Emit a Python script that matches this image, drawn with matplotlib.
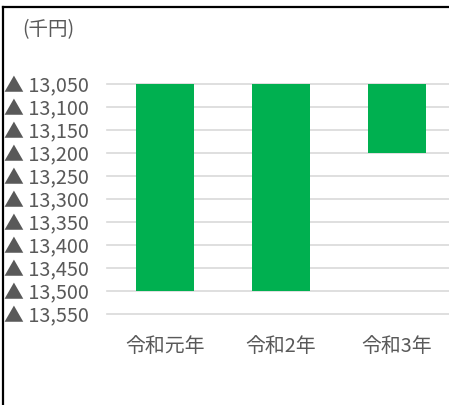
import matplotlib
matplotlib.use("Agg")
import matplotlib.pyplot as plt
from matplotlib.lines import Line2D

categories = ["令和元年", "令和2年", "令和3年"]
values = [-13500, -13500, -13200]
baseline = -13050
y_ticks = [-13050, -13100, -13150, -13200, -13250, -13300, -13350, -13400, -13450, -13500, -13550]
y_labels = ["▲ 13,050", "▲ 13,100", "▲ 13,150", "▲ 13,200", "▲ 13,250", "▲ 13,300",
            "▲ 13,350", "▲ 13,400", "▲ 13,450", "▲ 13,500", "▲ 13,550"]
unit_label = "(千円)"

W, H = 449, 405
fig = plt.figure(figsize=(W / 100, H / 100), dpi=100)
fig.patch.set_facecolor("white")

ax = fig.add_axes([107 / W, 1 - 314 / H, (W - 107) / W, 230 / H])
text_color = "#595959"
cjk = ["Noto Sans CJK JP", "DejaVu Sans"]

x = list(range(len(categories)))
heights = [v - baseline for v in values]
ax.bar(x, heights, bottom=baseline, width=0.5, color="#00B050", zorder=3)

ax.set_ylim(-13550, -13050)
ax.set_xlim(-0.5, 2.448)
ax.set_yticks(y_ticks)
ax.set_yticklabels(y_labels)
for t in ax.get_yticklabels():
    t.set_fontfamily(cjk)
    t.set_fontsize(14.3)
    t.set_color(text_color)
ax.set_xticks(x)
ax.set_xticklabels(categories)
for t in ax.get_xticklabels():
    t.set_fontfamily(cjk)
    t.set_fontsize(14.3)
    t.set_color(text_color)
ax.tick_params(axis="y", length=0, pad=13)
ax.tick_params(axis="x", length=0, pad=16)
ax.grid(axis="y", color="#d9d9d9", linewidth=1.2, zorder=0)
for gl in ax.get_ygridlines():
    gl.set_clip_on(False)
for s in ax.spines.values():
    s.set_visible(False)

fig.text(22 / W, 1 - 30 / H, unit_label, fontfamily=cjk, fontsize=14,
         color=text_color, ha="left", va="center")

# outer frame lines (left and top)
fig.add_artist(Line2D([2.5 / W, 2.5 / W], [0, 1 - 7 / H], color="black", linewidth=1.6))
fig.add_artist(Line2D([2.5 / W, 1], [1 - 7 / H, 1 - 7 / H], color="black", linewidth=1.6))

fig.savefig("out.png", dpi=100)
